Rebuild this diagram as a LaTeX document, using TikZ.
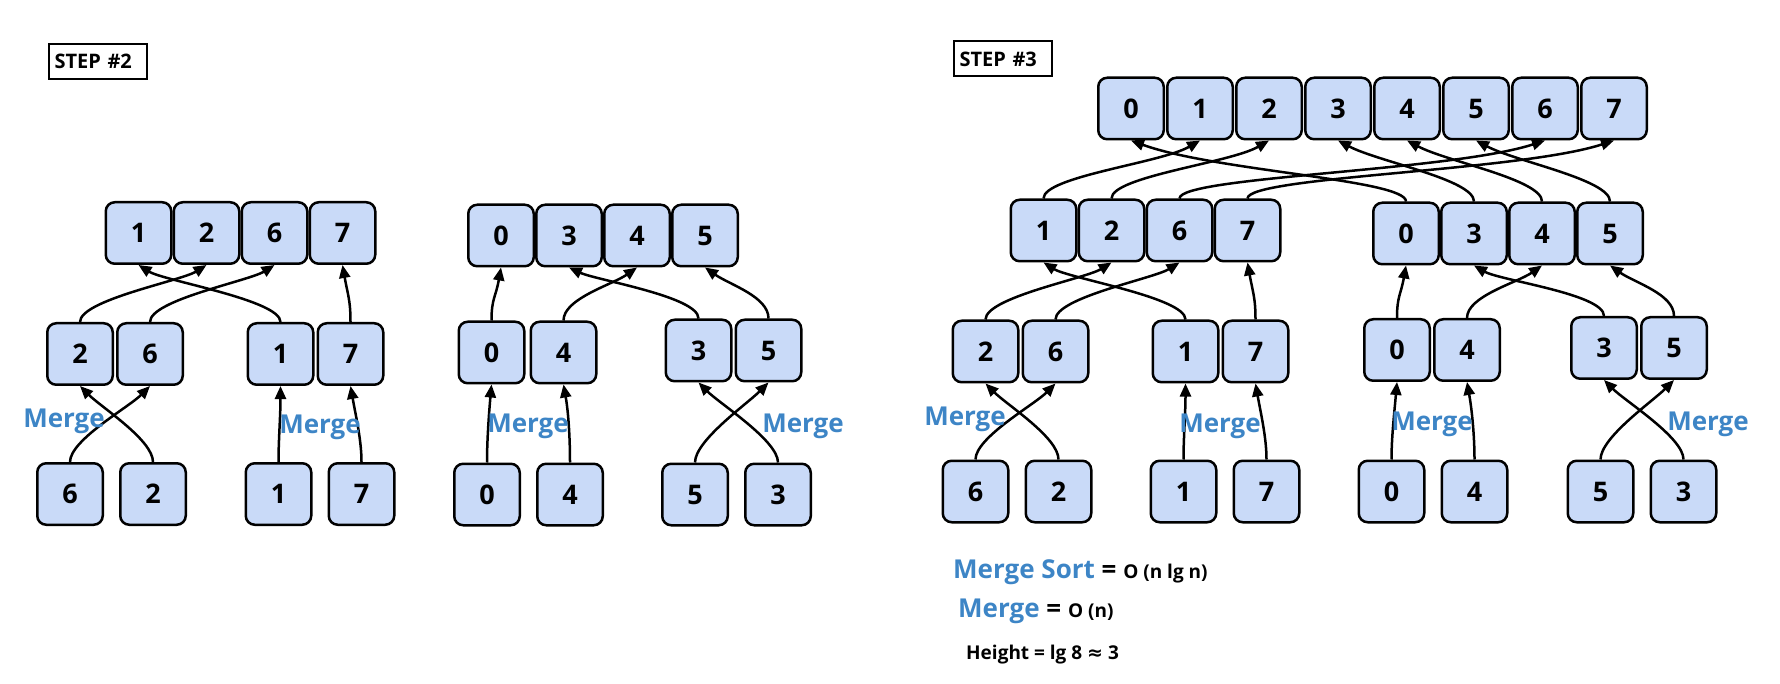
\documentclass[tikz,border=0pt]{standalone}
\usepackage{fontspec}
\setmainfont{Open Sans}
\newfontfamily\symfont{DejaVu Sans}
\usetikzlibrary{arrows.meta,positioning}
\definecolor{cellfill}{HTML}{C9DAF8}
\definecolor{mergeblue}{HTML}{3D85C6}
\newcommand\cellfont{\fontsize{27}{32}\selectfont\bfseries}
\newcommand\mergefont{\fontsize{26}{30}\selectfont\bfseries}
\newcommand\notefont{\fontsize{19}{22}\selectfont\bfseries}
\newcommand\stepfont{\fontsize{20}{24}\selectfont\bfseries}
\tikzset{
    cell/.style={draw, fill=cellfill, line width=2.5pt, rounded corners=9pt, minimum width=65.5pt, minimum height=61.5pt, inner sep=0, font=\cellfont},
    stepbox/.style={draw, line width=2pt, text width=86pt, inner xsep=6pt, minimum height=35pt, align=left, font=\stepfont},
    mergelbl/.style={text=mergeblue, font=\mergefont, inner sep=0, anchor=base},
    note/.style={font=\mergefont, inner sep=0, anchor=base west},
    link/.style={-{Triangle[length=13pt,width=11pt]}, line width=2.5pt},
    hop/.style={out=90, in=#1, out distance=22pt, in distance=30pt},
  }
\begin{document}
\begin{tikzpicture}[x=1pt, y=-1pt]
  \useasboundingbox (0,0) rectangle (1780,684);

  % step 2
  \node (step2) [stepbox] at (97.5,61.5) {STEP \#2};

  \node (at1) [cell] at (138.5,233) {1};
  \node (at2) [cell, right=0pt of at1] {2};
  \node (at6) [cell, right=0pt of at2] {6};
  \node (at7) [cell, right=0pt of at6] {7};
  \node (am2) [cell] at (80,354) {2}
      edge [link, hop=-148] (at2.south);
  \node (am6) [cell, right=2pt of am2] {6}
      edge [link, hop=-148] (at6.south);
  \node (am1) [cell] at (280.5,354) {1}
      edge [link, hop=-32] (at1.south);
  \node (am7) [cell, right=2pt of am1] {7}
      edge [link, hop=-80] (at7.south);
  \node (ab6) [cell] at (70,494) {6}
      edge [link, hop=-135] (am6.south);
  \node (ab2) [cell, right=15pt of ab6] {2}
      edge [link, hop=-45] (am2.south);
  \node (ab1) [cell] at (278.5,494) {1}
      edge [link, hop=-90] (am1.south);
  \node (ab7) [cell, right=15pt of ab1] {7}
      edge [link, hop=-80] (am7.south);
  \node (mg-a1) [mergelbl] at (64,428) {Merge};
  \node (mg-a2) [mergelbl] at (320,433) {Merge};

  \node (bt0) [cell] at (501,235.5) {0};
  \node (bt3) [cell, right=0pt of bt0] {3};
  \node (bt4) [cell, right=0pt of bt3] {4};
  \node (bt5) [cell, right=0pt of bt4] {5};
  \node (bm0) [cell] at (491.5,352.5) {0}
      edge [link, hop=-100] (bt0.south);
  \node (bm4) [cell, right=4pt of bm0] {4}
      edge [link, hop=-145] (bt4.south);
  \node (bm3) [cell] at (698.5,350.5) {3}
      edge [link, hop=-25] (bt3.south);
  \node (bm5) [cell, right=2pt of bm3] {5}
      edge [link, hop=-35] (bt5.south);
  \node (bb0) [cell] at (487,494.5) {0}
      edge [link, hop=-95] (bm0.south);
  \node (bb4) [cell, right=15pt of bb0] {4}
      edge [link, hop=-80] (bm4.south);
  \node (bb5) [cell] at (695,494.5) {5}
      edge [link, hop=-135] (bm5.south);
  \node (bb3) [cell, right=15pt of bb5] {3}
      edge [link, hop=-45] (bm3.south);
  \node (mg-b1) [mergelbl] at (528,432) {Merge};
  \node (mg-b2) [mergelbl] at (803,432) {Merge};

  % step 3
  \node (step3) [stepbox] at (1002.5,59) {STEP \#3};

  \node (ct0) [cell] at (1131,108.5) {0};
  \node (ct1) [cell, right=1pt of ct0] {1};
  \node (ct2) [cell, right=1pt of ct1] {2};
  \node (ct3) [cell, right=1pt of ct2] {3};
  \node (ct4) [cell, right=1pt of ct3] {4};
  \node (ct5) [cell, right=1pt of ct4] {5};
  \node (ct6) [cell, right=1pt of ct5] {6};
  \node (ct7) [cell, right=1pt of ct6] {7};

  \node (cl1) [cell] at (1043.5,230.5) {1}
      edge [link, hop=-150, in distance=45pt] (ct1.south);
  \node (cl2) [cell, right=0pt of cl1] {2}
      edge [link, hop=-150, in distance=45pt] (ct2.south);
  \node (cl6) [cell, right=0pt of cl2] {6}
      edge [link, hop=-162, in distance=100pt] (ct6.south);
  \node (cl7) [cell, right=0pt of cl6] {7}
      edge [link, hop=-162, in distance=100pt] (ct7.south);
  \node (cr0) [cell] at (1406,233.5) {0}
      edge [link, hop=-20, in distance=90pt] (ct0.south);
  \node (cr3) [cell, right=0pt of cr0] {3}
      edge [link, hop=-28, in distance=45pt] (ct3.south);
  \node (cr4) [cell, right=0pt of cr3] {4}
      edge [link, hop=-28, in distance=45pt] (ct4.south);
  \node (cr5) [cell, right=0pt of cr4] {5}
      edge [link, hop=-28, in distance=45pt] (ct5.south);

  \node (cm2) [cell] at (985.5,351.5) {2}
      edge [link, hop=-148] (cl2.south);
  \node (cm6) [cell, right=2pt of cm2] {6}
      edge [link, hop=-148] (cl6.south);
  \node (cm1) [cell] at (1185.5,351.5) {1}
      edge [link, hop=-32] (cl1.south);
  \node (cm7) [cell, right=2pt of cm1] {7}
      edge [link, hop=-80] (cl7.south);
  \node (cn0) [cell] at (1397,350) {0}
      edge [link, hop=-100] (cr0.south);
  \node (cn4) [cell, right=2pt of cn0] {4}
      edge [link, hop=-145] (cr4.south);
  \node (cn3) [cell] at (1604,348) {3}
      edge [link, hop=-30] (cr3.south);
  \node (cn5) [cell, right=2pt of cn3] {5}
      edge [link, hop=-35] (cr5.south);

  \node (cb6) [cell] at (975.5,491.5) {6}
      edge [link, hop=-135] (cm6.south);
  \node (cb2) [cell, right=15pt of cb6] {2}
      edge [link, hop=-45] (cm2.south);
  \node (cb1) [cell] at (1183.5,491.5) {1}
      edge [link, hop=-90] (cm1.south);
  \node (cb7) [cell, right=15pt of cb1] {7}
      edge [link, hop=-80] (cm7.south);
  \node (cc0) [cell] at (1391.5,491.5) {0}
      edge [link, hop=-95] (cn0.south);
  \node (cc4) [cell, right=15pt of cc0] {4}
      edge [link, hop=-80] (cn4.south);
  \node (cc5) [cell] at (1600.5,491.5) {5}
      edge [link, hop=-135] (cn5.south);
  \node (cc3) [cell, right=15pt of cc5] {3}
      edge [link, hop=-45] (cn3.south);
  \node (mg-c1) [mergelbl] at (965,425) {Merge};
  \node (mg-c2) [mergelbl] at (1220,432) {Merge};
  \node (mg-c3) [mergelbl] at (1432,430) {Merge};
  \node (mg-c4) [mergelbl] at (1708,430) {Merge};

  % costs
  \node (sortcost) [note] at (953,578) {\textcolor{mergeblue}{Merge Sort} = {\notefont O (n lg n)}};
  \node (mergecost) [note] at (958,617) {\textcolor{mergeblue}{Merge} = {\notefont O (n)}};
  \node (height) [note, font=\notefont] at (966,659) {Height = lg 8 {\symfont ≈} 3};
\end{tikzpicture}
\end{document}
